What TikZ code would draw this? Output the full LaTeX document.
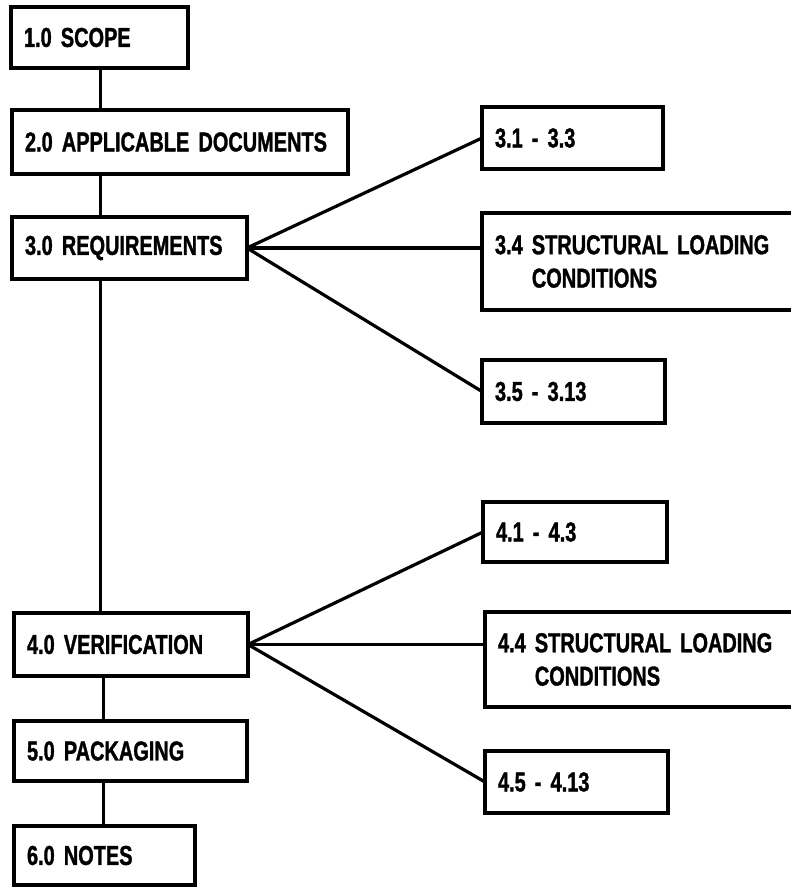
\documentclass[tikz,border=0pt]{standalone}
\usepackage{fontspec}
\newfontfamily\dfont{Liberation Sans}[FakeStretch=0.73, BoldFeatures={FakeBold=1.2}]
\begin{document}
\begin{tikzpicture}[x=0.75pt,y=-0.75pt,
  box/.style={draw, line width=2.3pt, rectangle, align=left,
    inner xsep=9.75pt, inner ysep=0pt, outer sep=0pt, anchor=center,
    font={\dfont\bfseries\fontsize{20.5}{25}\selectfont}},
  link/.style={line width=2.4pt}]
\useasboundingbox (0,0) rectangle (791,888);
\clip (0,0) rectangle (791,888);
% left column
\node[box, minimum width=132.75pt, minimum height=45.75pt, text width=113.25pt] (b1) at (99.5,37.5) {1.0 SCOPE};
\node[box, minimum width=252pt, minimum height=48pt, text width=232.5pt] (b2) at (180,142) {2.0 APPLICABLE DOCUMENTS};
\node[box, minimum width=176.25pt, minimum height=46.5pt, text width=156.75pt] (b3) at (129.5,248) {3.0 REQUIREMENTS};
\node[box, minimum width=175.5pt, minimum height=47.25pt, text width=156pt] (b4) at (131,644.5) {4.0 VERIFICATION};
\node[box, minimum width=174.75pt, minimum height=45pt, text width=155.25pt] (b5) at (130.5,751) {5.0 PACKAGING};
\node[box, minimum width=135.75pt, minimum height=44.25pt, text width=116.25pt] (b6) at (104.5,855.5) {6.0 NOTES};
% right column, section 3
\node[box, minimum width=135.75pt, minimum height=46.5pt, text width=116.25pt] (c31) at (572.5,138) {3.1 - 3.3};
\node[box, minimum width=253.5pt, minimum height=72.75pt, text width=234pt] (c34) at (651,261.5) {3.4 STRUCTURAL LOADING\\\phantom{3.4 }CONDITIONS};
\node[box, minimum width=137.25pt, minimum height=47.25pt, text width=117.75pt] (c35) at (573.5,391.5) {3.5 - 3.13};
% right column, section 4
\node[box, minimum width=138pt, minimum height=45pt, text width=118.5pt] (c41) at (575,532) {4.1 - 4.3};
\node[box, minimum width=251.25pt, minimum height=71.25pt, text width=231.75pt] (c44) at (652.5,659.5) {4.4 STRUCTURAL LOADING\\\phantom{4.4 }CONDITIONS};
\node[box, minimum width=137.25pt, minimum height=46.5pt, text width=117.75pt] (c45) at (576.5,782) {4.5 - 4.13};
% spine
\coordinate (spA) at (100.5,0);
\coordinate (spB) at (103.5,0);
\draw[link] (b1.south -| spA) -- (b2.north -| spA);
\draw[link] (b2.south -| spA) -- (b3.north -| spA);
\draw[link] (b3.south -| spA) -- (b4.north -| spA);
\draw[link] (b4.south -| spB) -- (b5.north -| spB);
\draw[link] (b5.south -| spB) -- (b6.north -| spB);
% fans
\draw[link] (b3.east) -- (c31.west);
\draw[link] (b3.east) -- (c34.west |- b3.east);
\draw[link] (b3.east) -- (c35.west);
\draw[link] (b4.east) -- (c41.west);
\draw[link] (b4.east) -- (c44.west |- b4.east);
\draw[link] (b4.east) -- (c45.west);
\end{tikzpicture}
\end{document}
